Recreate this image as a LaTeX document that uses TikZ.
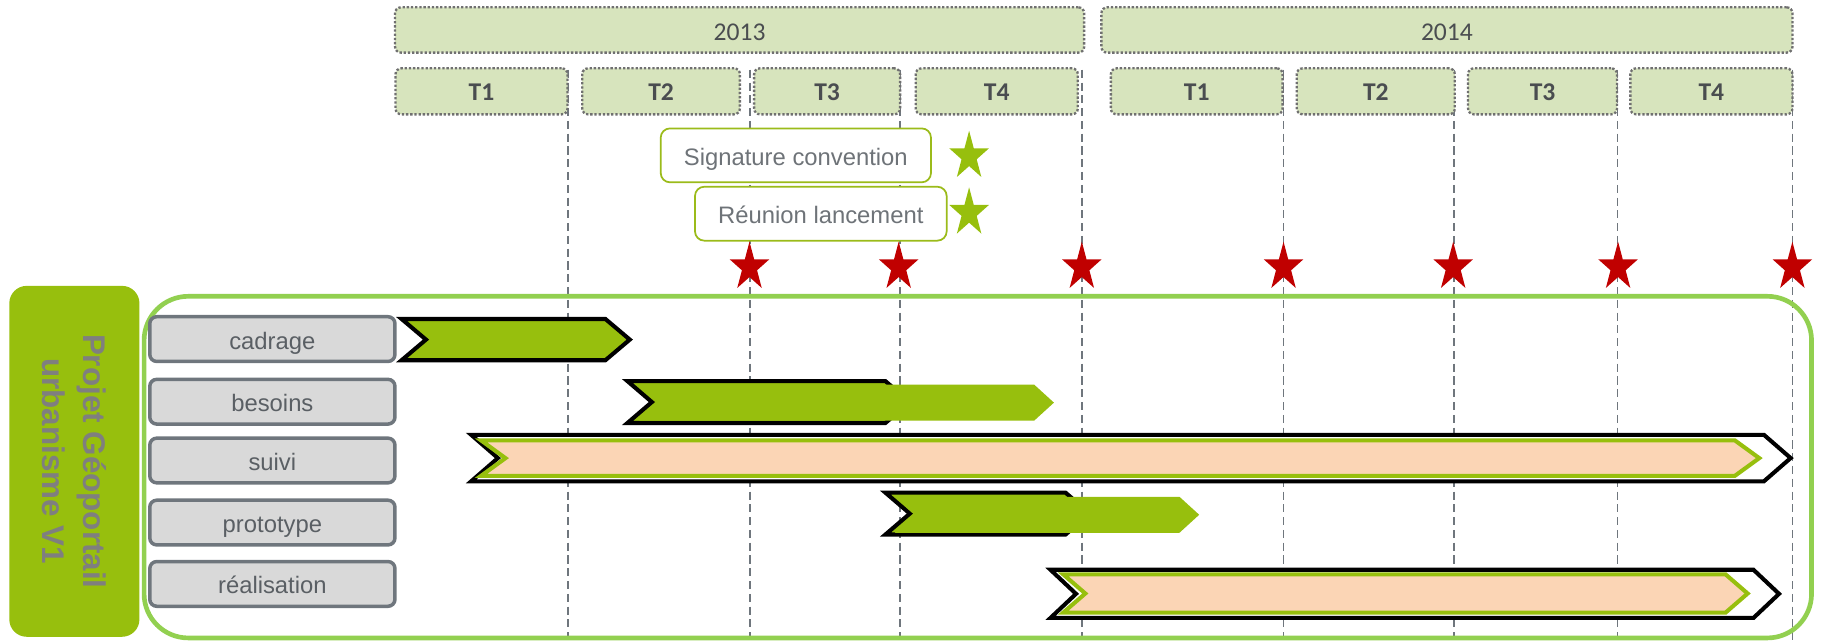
\documentclass[tikz,border=0pt]{standalone}
\usepackage{fontspec}
\setmainfont{Liberation Sans}
\newfontfamily\calib{Carlito}

\definecolor{yearfill}{HTML}{D7E4BD}
\definecolor{dotgray}{HTML}{707070}
\definecolor{yeartext}{HTML}{4A4D50}
\definecolor{leaf}{HTML}{97BF0D}
\definecolor{framegreen}{HTML}{92D050}
\definecolor{peach}{HTML}{FBD5B5}
\definecolor{taskfill}{HTML}{D9D9D9}
\definecolor{taskline}{HTML}{6F767D}
\definecolor{tasktext}{HTML}{5A5F64}
\definecolor{gridgray}{HTML}{6F767D}
\definecolor{starred}{HTML}{C00000}
\definecolor{calloutline}{HTML}{9BBB1A}
\definecolor{callouttext}{HTML}{6E7378}
\definecolor{labeltext}{HTML}{7F7F7F}

\tikzset{
  chev/.style n args={5}{insert path={(#1,#3) -- (#2-#5,#3) -- (#2,{(#3+#4)/2}) -- (#2-#5,#4) -- (#1,#4) -- (#1+#5,{(#3+#4)/2}) -- cycle}},
  starshape/.pic={\fill[pic actions] (270:17.9) -- (306:6.85) -- (342:17.9) -- (18:6.85) -- (54:17.9) -- (90:6.85) -- (126:17.9) -- (162:6.85) -- (198:17.9) -- (234:6.85) -- cycle;},
  yearbox/.style={draw=dotgray, line width=2pt, dash pattern=on 2pt off 1.6pt, fill=yearfill, rounded corners=5pt, inner sep=0pt, minimum height=39pt, text=yeartext, font=\calib\fontsize{22}{26}\selectfont, text height=18.4pt, text depth=0pt},
  qbox/.style={yearbox, minimum height=39.6pt, font=\calib\bfseries\fontsize{22}{26}\selectfont, text height=16.6pt},
  taskbox/.style={draw=taskline, line width=3pt, fill=taskfill, rounded corners=6pt, minimum width=211pt, minimum height=38.5pt, inner sep=0pt, text=tasktext, font=\fontsize{20.5}{24}\selectfont, text height=17.8pt, text depth=0.6pt},
  callout/.style={draw=calloutline, line width=1.5pt, fill=white, rounded corners=8pt, minimum height=46.4pt, inner sep=0pt, text=callouttext, font=\fontsize{20.5}{24}\selectfont, text height=17.2pt, text depth=0.6pt},
  gridline/.style={draw=gridgray, line width=1.5pt, dash pattern=on 7pt off 4pt},
  blackchev/.style={draw=black, line width=3.5pt, fill=leaf},
  whitechev/.style={draw=black, line width=3.5pt, fill=white},
  peachchev/.style={draw=leaf, line width=3.5pt, fill=peach},
  greenchev/.style={fill=leaf},
}

\begin{document}
\begin{tikzpicture}[x=1pt,y=-1pt]
\useasboundingbox (0,0) rectangle (1568,552);

% years
\node[yearbox, minimum width=593pt] (y2013) at (636.5,25.8) {2013};
\node[yearbox, minimum width=594.7pt] (y2014) at (1245.2,25.8) {2014};

% grid lines
\foreach \gx in {488.5,645.5,774.5,931,1104.6,1251,1392,1542.5}
  \draw[gridline] (\gx,60) -- (\gx,552);

% quarters
\node[qbox, minimum width=148pt] (a1) at (414.4,78.6) {T1};
\node[qbox, minimum width=135.7pt] (a2) at (568.9,78.6) {T2};
\node[qbox, minimum width=125.6pt] (a3) at (711.8,78.6) {T3};
\node[qbox, minimum width=139.5pt] (a4) at (857.8,78.6) {T4};
\node[qbox, minimum width=147.8pt] (b1) at (1029.9,78.6) {T1};
\node[qbox, minimum width=136pt] (b2) at (1184,78.6) {T2};
\node[qbox, minimum width=128.2pt] (b3) at (1327.5,78.6) {T3};
\node[qbox, minimum width=139.5pt] (b4) at (1472.8,78.6) {T4};

% callouts
\node[callout, minimum width=232.6pt] (sig) at (684.9,133.7) {Signature convention};
\node[callout, minimum width=216.6pt] (reu) at (706.4,183.9) {Réunion lancement};
\pic[fill=leaf, yscale=1.23] at (834,134.5) {starshape};
\pic[fill=leaf, yscale=1.23] at (834,183.2) {starshape};

% red milestones
\foreach \sx in {645,773.4,931,1104.6,1250.6,1392.5,1542.5}
  \pic[fill=starred, yscale=1.23] at (\sx,230) {starshape};

% main panel
\node[draw=framegreen, line width=4pt, rounded corners=38pt, minimum width=1435pt, minimum height=294pt, inner sep=0pt] (panel) at (841.5,402) {};

% project label
\node[fill=leaf, rounded corners=15pt, minimum width=302pt, minimum height=112pt, rotate=-90, align=center, inner sep=0pt, text=labeltext, font=\bfseries\fontsize{27}{35.4}\selectfont] (proj) at (64,397) {Projet Géoportail\\urbanisme V1};

% tasks
\node[taskbox] (t1) at (234.4,291.8) {cadrage};
\node[taskbox] (t2) at (234.4,345.7) {besoins};
\node[taskbox] (t3) at (234.4,396.3) {suivi};
\node[taskbox] (t4) at (234.4,449.7) {prototype};
\node[taskbox] (t5) at (234.4,502.5) {réalisation};

% bars
\draw[blackchev, chev={345.6}{542}{274.5}{310}{21}];
\draw[blackchev, chev={540}{783}{328}{364}{21}];
\fill[greenchev, chev={550}{907}{331}{362}{17}];
\draw[whitechev, chev={405.5}{1541}{374.2}{414.2}{23}];
\draw[peachchev, chev={414}{1514}{379}{409.5}{21}];
\draw[blackchev, chev={762}{938}{424}{460}{21}];
\fill[greenchev, chev={770}{1032}{427.5}{458.5}{17}];
\draw[whitechev, chev={904}{1531}{490.3}{531.8}{22}];
\draw[peachchev, chev={915}{1504}{494.3}{527.2}{19}];
\end{tikzpicture}
\end{document}
